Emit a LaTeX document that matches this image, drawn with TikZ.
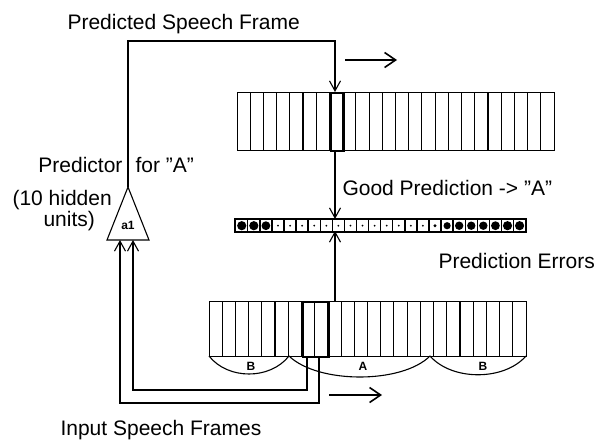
\documentclass[tikz,border=0pt]{standalone}
\usepackage{fontspec}
\setmainfont{Liberation Sans}
\usetikzlibrary{arrows.meta}
% straight double quote, not the typographic one
\newcommand\sdq{\char"22\relax}
\begin{document}
\begin{tikzpicture}[x=1pt,y=-1pt,line width=1.1pt,line cap=butt,
  lbl/.style={font=\fontsize{21}{24}\selectfont,inner sep=0pt},
  seglbl/.style={font=\fontsize{12}{14}\selectfont\bfseries,inner sep=0pt},
  vhead/.style={-{Straight Barb[length=10pt,width=11pt,line width=1.1pt]}},
  rhead/.style={line width=1.6pt,-{Straight Barb[length=11pt,width=15pt,line width=1.6pt]}},
  framerow/.style={draw,inner sep=0pt,anchor=north west,minimum width=317pt},
  window/.style={draw,line width=2.2pt,inner sep=0pt,anchor=north west},
  errcell/.style={draw,line width=1.4pt,inner sep=0pt,minimum width=12.08pt,minimum height=12pt,anchor=north west}]
\useasboundingbox (0,0) rectangle (602,439);

% ---------- predicted frame sequence (top row, 24 frames) ----------
\node[framerow,minimum height=58pt] (toprow) at (237,92) {};
\foreach \i in {1,...,23}
  \draw (237+\i*13.208,92) -- (237+\i*13.208,150);
\node[window,minimum width=13.2pt,minimum height=58pt] (topwin) at (329.5,92) {};

% ---------- input frame sequence (bottom row, 24 frames) ----------
\node[framerow,minimum height=55pt] (lowrow) at (209,301) {};
\foreach \i in {1,...,23}
  \draw (209+\i*13.208,301) -- (209+\i*13.208,356);
\node[window,minimum width=26.4pt,minimum height=55pt] (lowwin) at (301.5,301) {};

% segment arcs under the input frames
\coordinate (s0) at (209,356);
\coordinate (s1) at (289,356);
\coordinate (s2) at (430,356);
\coordinate (s3) at (526,356);
\draw (s0) .. controls (228,380) and (270,380) .. (s1);
\draw (s1) .. controls (318,384) and (402,384) .. (s2);
\draw (s2) .. controls (452,381) and (504,381) .. (s3);
\node[seglbl] (lb1) at (251,366) {B};
\node[seglbl] (la) at (363,366) {A};
\node[seglbl] (lb2) at (483,366) {B};

% ---------- prediction error row ----------
\foreach \r [count=\k from 0] in {4.6,4.6,4.4,1,1,1,1,1,1,1,1,1,1,1,1,1,1.6,3.6,4.2,4.2,4.2,4.4,4.6,4.6} {
  \node[errcell] (e\k) at (235+\k*12.08,219) {};
  \fill (e\k.center) circle (\r pt);
}
\draw[line width=1.6pt] (e0.north west) rectangle (e23.south east);

% ---------- predictor network ----------
\coordinate (apex) at (128,187);
\coordinate (bl) at (107,240);
\coordinate (br) at (149,240);
\draw[line join=miter] (apex) -- (bl) -- (br) -- cycle;
\node[font=\fontsize{12}{14}\selectfont\bfseries,inner sep=0pt] (net) at (128,225) {a1};

% output of the predictor goes to the predicted frame
\coordinate (outtop) at (128,41);
\coordinate (outright) at (335,41);
\draw[vhead] (apex) -- (outtop) -- (outright) -- (335,92);

% input frames feed the predictor
\coordinate (in1a) at (307,356);
\coordinate (in1b) at (307,390);
\coordinate (in1c) at (133,390);
\coordinate (in2a) at (319,356);
\coordinate (in2b) at (319,403);
\coordinate (in2c) at (120,403);
\draw[vhead] (in1a) -- (in1b) -- (in1c) -- (133,240);
\draw[vhead] (in2a) -- (in2b) -- (in2c) -- (120,240);

% comparison arrows into the error row
\draw[vhead] (335,150) -- (335,219);
\draw[vhead] (335,301) -- (335,231);

% direction-of-time arrows
\coordinate (ta1) at (345,60);
\coordinate (ta2) at (397,60);
\draw[rhead] (ta1) -- (ta2);
\coordinate (tb1) at (329,395);
\coordinate (tb2) at (382,395);
\draw[rhead] (tb1) -- (tb2);

% ---------- labels ----------
\node[lbl,anchor=base west] (tpred) at (67,29) {Predicted Speech Frame};
\node[lbl,anchor=base east] (tpr) at (123,172) {Predictor};
\node[lbl,anchor=base west] (tfor) at (135,172) {for \sdq A\sdq};
\node[lbl,anchor=base west] (thid) at (12,205) {(10 hidden};
\node[lbl,anchor=base west] (tun) at (43,226) {units)};
\node[lbl,anchor=base west] (tgood) at (342,195) {Good Prediction -> \sdq A\sdq};
\node[lbl,anchor=base west] (terr) at (438,268) {Prediction Errors};
\node[lbl,anchor=base west] (tin) at (60,435) {Input Speech Frames};
\end{tikzpicture}
\end{document}
